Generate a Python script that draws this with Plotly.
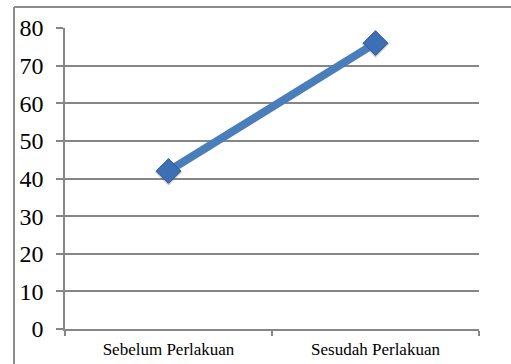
import plotly.graph_objects as go

categories = ["Sebelum Perlakuan", "Sesudah Perlakuan"]
values = [42, 76]
y_ticks = [0, 10, 20, 30, 40, 50, 60, 70, 80]

L, R, T, B = 65, 32, 28, 35
W, H = 511, 364
pw, ph = W - L - R, H - T - B
SERIF = "Liberation Serif"

fig = go.Figure()
# soft shadow under markers
fig.add_trace(go.Scatter(
    x=categories, y=[v - 0.25 for v in values], mode="markers",
    marker=dict(symbol="diamond", size=21, color="rgba(90,90,90,0.35)", line=dict(width=0)),
    hoverinfo="skip", showlegend=False,
))
fig.add_trace(go.Scatter(
    x=categories, y=values, mode="lines+markers",
    line=dict(color="#4a7ebb", width=8),
    marker=dict(symbol="diamond", size=19, color="#3d6fb5", line=dict(color="#2e5c9a", width=1)),
    showlegend=False,
))

bx = (14 - L) / pw
by = (H - B - 7) / ph

# outer chart-area border (cropped on the right and bottom)
fig.add_shape(type="line", xref="paper", yref="paper", x0=bx, x1=bx, y0=-0.2, y1=by,
              line=dict(color="#8c8c8c", width=2))
fig.add_shape(type="line", xref="paper", yref="paper", x0=bx, x1=1.2, y0=by, y1=by,
              line=dict(color="#8c8c8c", width=2))

fig.update_layout(
    width=W, height=H,
    margin=dict(l=L, r=R, t=T, b=B, autoexpand=False),
    paper_bgcolor="white", plot_bgcolor="white",
    font=dict(family=SERIF, color="black"),
    xaxis=dict(
        type="category", range=[-0.5, 1.5], tickson="boundaries",
        showgrid=False, showline=True, linecolor="#868686", linewidth=1.5,
        ticks="outside", ticklen=5, tickcolor="#868686", tickwidth=1.5,
        tickfont=dict(size=17, family=SERIF, color="black"), zeroline=False,
        ticklabelstandoff=4, automargin=False,
    ),
    yaxis=dict(
        range=[0, 80], tickvals=y_ticks, ticktext=[str(v) for v in y_ticks],
        showgrid=True, gridcolor="#868686", gridwidth=1.5,
        showline=True, linecolor="#868686", linewidth=1.5,
        ticks="outside", ticklen=7, tickcolor="#868686", tickwidth=1.5,
        tickfont=dict(size=24, family=SERIF, color="black"), zeroline=False,
        ticklabelstandoff=8, automargin=False,
    ),
)

fig.write_html("out.html")
